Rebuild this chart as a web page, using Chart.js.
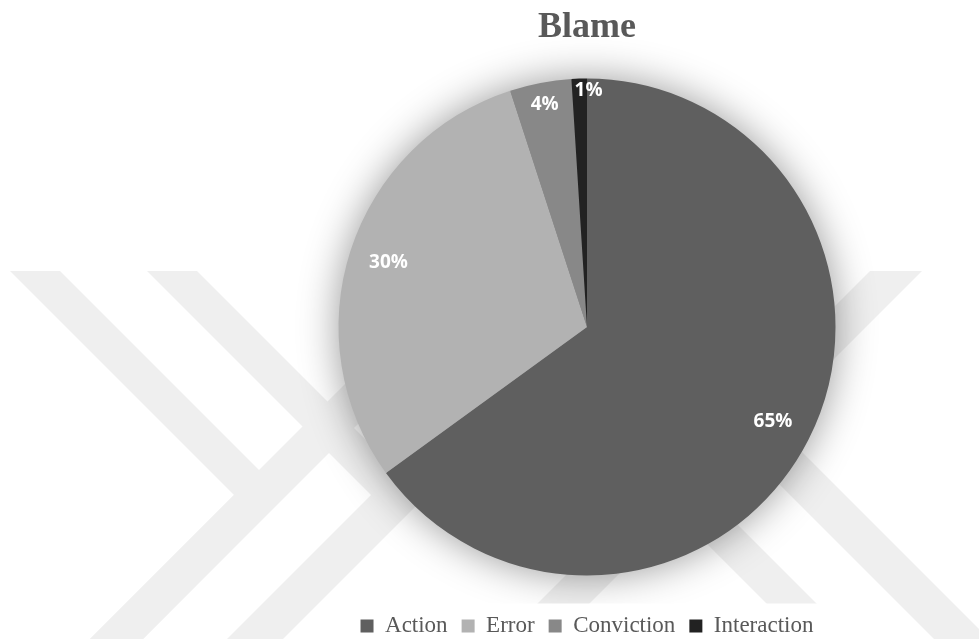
<!DOCTYPE html>
<html>
<head>
<meta charset="utf-8">
<script src="https://cdn.jsdelivr.net/npm/chart.js@4/dist/chart.umd.min.js"></script>
<style>
  html, body { margin: 0; padding: 0; background: #fff; }
  #wrap { width: 979px; height: 639px; }
</style>
</head>
<body>
<div id="wrap"><canvas id="blameChart" width="979" height="639"></canvas></div>
<script>
const categories = ['Action', 'Error', 'Conviction', 'Interaction'];
const shares = [65, 30, 4, 1];

const sliceColors = ['#5f5f5f', '#b2b2b2', '#888888', '#222222'];
// label placement along each slice (fraction of radius) plus a sideways nudge for the thin one
const labelRadius = [0.84, 0.84, 0.91, 0.95];
const labelNudgeX = [0, 0, 0, 9];

const serif = "'Liberation Serif', 'Times New Roman', serif";

// faint diagonal bands behind the chart
const bands = [
  [[10, 271], [60, 271], [285, 496], [143, 639], [90, 639], [234, 495]],
  [[90, 639], [143, 639], [422, 360], [369, 360]],
  [[147, 271], [197, 271], [424, 498], [283, 639], [227, 639], [371, 495]],
  [[870, 271], [922, 271], [554, 639], [502, 639]],
  [[603, 440], [653, 440], [852, 639], [802, 639]],
  [[735, 440], [790, 440], [989, 639], [934, 639]]
];

function legendRect(chart) {
  const boxes = chart.legend.legendHitBoxes;
  const left = Math.min(...boxes.map(b => b.left)) - 6;
  const right = Math.max(...boxes.map(b => b.left + b.width)) + 48;
  return { left, right, top: chart.legend.top + 3 };
}

const backdrop = {
  id: 'backdrop',
  beforeDraw(chart) {
    const ctx = chart.ctx;
    ctx.save();
    ctx.fillStyle = '#ffffff';
    ctx.fillRect(0, 0, chart.width, chart.height);
    ctx.fillStyle = '#efefef';
    bands.forEach(poly => {
      ctx.beginPath();
      poly.forEach(([x, y], i) => (i ? ctx.lineTo(x, y) : ctx.moveTo(x, y)));
      ctx.closePath();
      ctx.fill();
    });
    const r = legendRect(chart);
    ctx.fillStyle = '#ffffff';
    ctx.fillRect(r.left, r.top, r.right - r.left, chart.height - r.top);
    ctx.restore();
  }
};

const pieShadow = {
  id: 'pieShadow',
  beforeDatasetsDraw(chart) {
    const arc = chart.getDatasetMeta(0).data[0];
    if (!arc) return;
    const ctx = chart.ctx;
    const r = legendRect(chart);
    ctx.save();
    ctx.beginPath();
    ctx.rect(0, 0, chart.width, r.top);
    ctx.clip();
    ctx.shadowColor = 'rgba(0, 0, 0, 0.42)';
    ctx.shadowBlur = 40;
    ctx.fillStyle = '#888888';
    ctx.beginPath();
    ctx.arc(arc.x, arc.y, arc.outerRadius - 1, 0, Math.PI * 2);
    ctx.fill();
    ctx.restore();
  }
};

const sliceLabels = {
  id: 'sliceLabels',
  afterDatasetsDraw(chart) {
    const ctx = chart.ctx;
    const meta = chart.getDatasetMeta(0);
    const total = shares.reduce((a, b) => a + b, 0);
    ctx.save();
    ctx.font = "bold 19px 'Open Sans', 'DejaVu Sans', sans-serif";
    ctx.fillStyle = '#ffffff';
    ctx.textAlign = 'center';
    ctx.textBaseline = 'middle';
    meta.data.forEach((arc, i) => {
      const mid = (arc.startAngle + arc.endAngle) / 2;
      const dist = arc.outerRadius * labelRadius[i];
      const x = arc.x + Math.cos(mid) * dist + labelNudgeX[i];
      const y = arc.y + Math.sin(mid) * dist;
      ctx.fillText(Math.round(shares[i] / total * 100) + '%', x, y);
    });
    ctx.restore();
  }
};

new Chart(document.getElementById('blameChart'), {
  type: 'pie',
  data: {
    labels: categories,
    datasets: [{
      data: shares,
      backgroundColor: sliceColors,
      borderWidth: 0
    }]
  },
  options: {
    responsive: false,
    animation: false,
    radius: 248.5,
    layout: { padding: { left: 195, right: 0, top: 0, bottom: -8.5 } },
    plugins: {
      title: {
        display: true,
        text: 'Blame',
        color: '#595959',
        font: { family: serif, size: 36, weight: 'bold' },
        padding: { top: 6, bottom: 4.3 }
      },
      legend: {
        position: 'bottom',
        labels: {
          color: '#595959',
          font: { family: serif, size: 23 },
          boxWidth: 13,
          boxHeight: 13,
          padding: 14
        }
      },
      tooltip: { enabled: false }
    }
  },
  plugins: [backdrop, pieShadow, sliceLabels]
});
</script>
</body>
</html>
